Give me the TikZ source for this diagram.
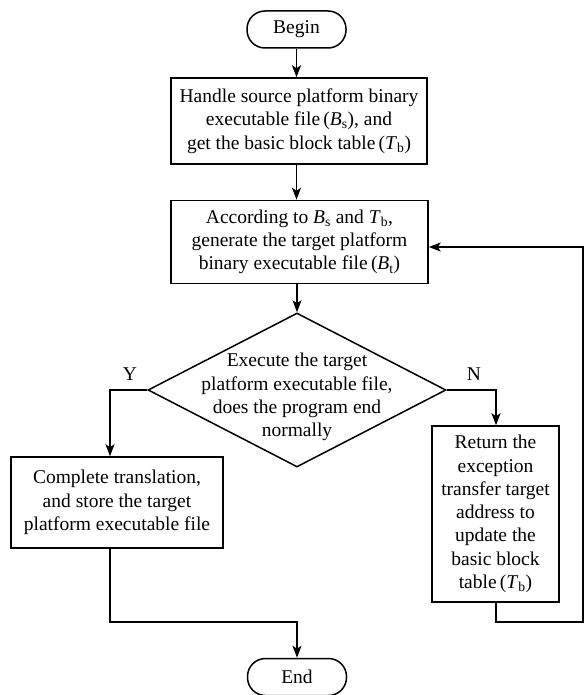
\documentclass[tikz,border=0pt]{standalone}
\usepackage{fontspec}
\setmainfont{Liberation Serif}
\usetikzlibrary{arrows.meta,shapes.geometric}
% italic variable with an upright subscript
\newcommand\varsub[2]{\textit{#1}\textsubscript{#2}}
\begin{document}
\begin{tikzpicture}[x=1pt,y=-1pt,
  line width=1.5pt,
  every node/.style={font=\fontsize{19.5}{23.3}\selectfont},
  box/.style={draw, rectangle, inner sep=0pt, align=center},
  term/.style={draw, rectangle, rounded corners=18pt, minimum width=99pt,
               minimum height=37pt, inner sep=0pt},
  flow/.style={-{Stealth[length=12pt,width=9pt,inset=3pt]}},
]
\useasboundingbox (0,0) rectangle (584,695);

% terminals, process boxes and the decision
\node[term] (begin) at (296.5,29.5) {Begin};
\node[box, minimum width=256pt, minimum height=86pt] (src) at (299,121)
  {Handle source platform binary\\ executable file\,(\varsub{B}{s}), and\\
   get the basic block table\,(\varsub{T}{b})};
\node[box, minimum width=257pt, minimum height=83pt] (gen) at (299.5,242)
  {According to \varsub{B}{s} and \varsub{T}{b},\\ generate the target platform\\
   binary executable file\,(\varsub{B}{t})};
\node[draw, diamond, minimum width=298pt, minimum height=154pt, inner sep=0pt]
  (exec) at (297,390) {};
\node[align=center] (exectext) at (297,397)
  {Execute the target\\ platform executable file,\\ does the program end\\ normally};
\node[box, minimum width=212pt, minimum height=91pt] (done) at (117,502.5)
  {Complete translation,\\ and store the target\\ platform executable file};
\node[box, minimum width=127pt, minimum height=176pt] (ret) at (495.5,514)
  {Return the\\ exception\\ transfer target\\ address to\\ update the\\
   basic block\\ table\,(\varsub{T}{b})};
\node[term] (end) at (297,677) {End};
\node (ylab) at (130,374) {Y};
\node (nlab) at (474,374) {N};

% bend points of the branch and feedback lines
\coordinate (yturn) at (110,390);
\coordinate (nturn) at (496,390);
\coordinate (lmerge) at (110,622);
\coordinate (rbend) at (496,622);
\coordinate (rcorner) at (583,622);
\coordinate (rtop) at (583,247);

% connectors
\draw[flow] (begin.south) -- (begin.south |- src.north);
\draw[flow] (begin.south |- src.south) -- (begin.south |- gen.north);
\draw[flow] (exec.north |- gen.south) -- (exec.north);
\draw[flow] (exec.west) -- (yturn) -- (yturn |- done.north);
\draw[flow] (exec.east) -- (nturn) -- (nturn |- ret.north);
\draw[flow] (lmerge |- done.south) -- (lmerge) -- (end.north |- lmerge) -- (end.north);
\draw[flow] (rbend |- ret.south) -- (rbend) -- (rcorner) -- (rtop) -- (rtop -| gen.east);
\end{tikzpicture}
\end{document}
